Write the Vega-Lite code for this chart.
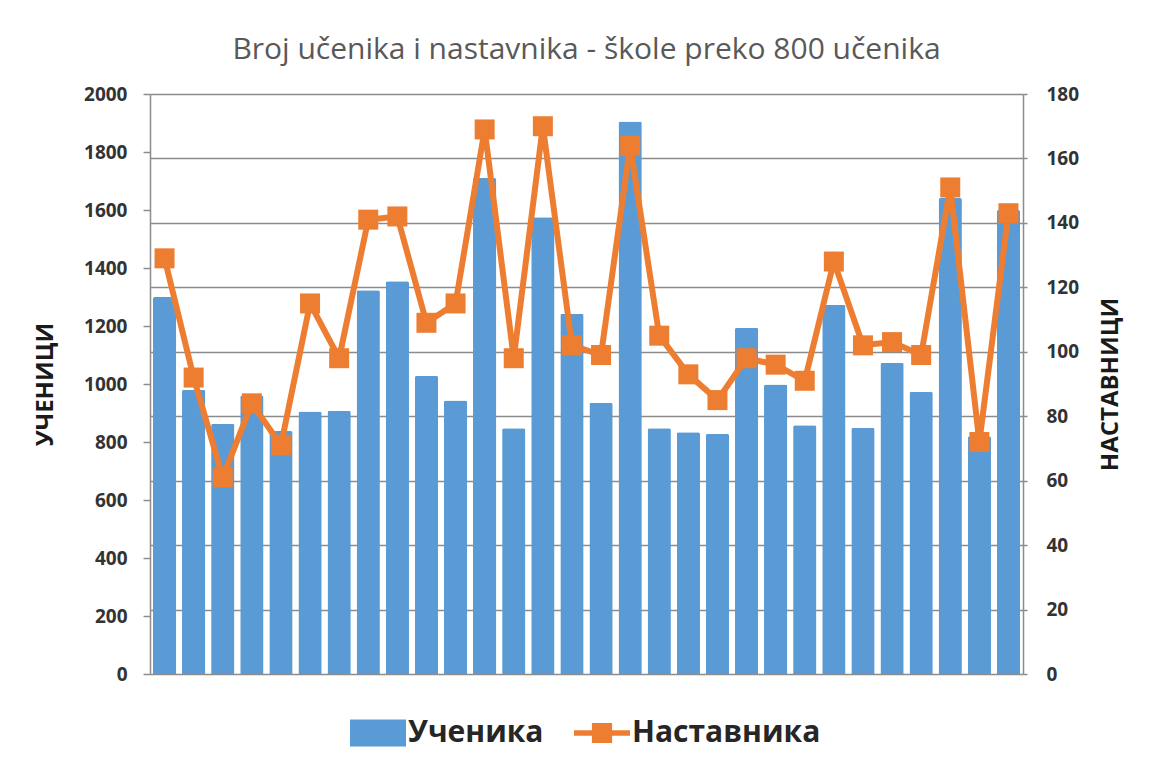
{
  "$schema": "https://vega.github.io/schema/vega-lite/v6.json",
  "autosize": {"type": "none"},
  "padding": {"left": 150, "top": 94, "right": 127, "bottom": 98},
  "width": 873,
  "height": 580,
  "background": "white",
  "title": {
    "text": "Broj učenika i nastavnika - škole preko 800 učenika",
    "font": "Open Sans",
    "fontSize": 30,
    "fontWeight": "normal",
    "color": "#595959",
    "anchor": "middle",
    "frame": "group",
    "offset": 20
  },
  "data": {
    "values": [
      {"skola": 1, "ucenika": 1300, "nastavnika": 129},
      {"skola": 2, "ucenika": 980, "nastavnika": 92},
      {"skola": 3, "ucenika": 863, "nastavnika": 61},
      {"skola": 4, "ucenika": 960, "nastavnika": 84},
      {"skola": 5, "ucenika": 838, "nastavnika": 71},
      {"skola": 6, "ucenika": 905, "nastavnika": 115},
      {"skola": 7, "ucenika": 908, "nastavnika": 98},
      {"skola": 8, "ucenika": 1323, "nastavnika": 141},
      {"skola": 9, "ucenika": 1354, "nastavnika": 142},
      {"skola": 10, "ucenika": 1028, "nastavnika": 109},
      {"skola": 11, "ucenika": 943, "nastavnika": 115},
      {"skola": 12, "ucenika": 1710, "nastavnika": 169},
      {"skola": 13, "ucenika": 847, "nastavnika": 98},
      {"skola": 14, "ucenika": 1575, "nastavnika": 170},
      {"skola": 15, "ucenika": 1242, "nastavnika": 102},
      {"skola": 16, "ucenika": 935, "nastavnika": 99},
      {"skola": 17, "ucenika": 1905, "nastavnika": 164},
      {"skola": 18, "ucenika": 847, "nastavnika": 105},
      {"skola": 19, "ucenika": 834, "nastavnika": 93},
      {"skola": 20, "ucenika": 828, "nastavnika": 85},
      {"skola": 21, "ucenika": 1194, "nastavnika": 98},
      {"skola": 22, "ucenika": 998, "nastavnika": 96},
      {"skola": 23, "ucenika": 858, "nastavnika": 91},
      {"skola": 24, "ucenika": 1273, "nastavnika": 128},
      {"skola": 25, "ucenika": 849, "nastavnika": 102},
      {"skola": 26, "ucenika": 1073, "nastavnika": 103},
      {"skola": 27, "ucenika": 973, "nastavnika": 99},
      {"skola": 28, "ucenika": 1641, "nastavnika": 151},
      {"skola": 29, "ucenika": 820, "nastavnika": 72},
      {"skola": 30, "ucenika": 1600, "nastavnika": 143}
    ]
  },
  "encoding": {
    "x": {
      "field": "skola",
      "type": "ordinal",
      "axis": null,
      "scale": {"paddingInner": 0.2, "paddingOuter": 0.1}
    }
  },
  "layer": [
    {
      "mark": {"type": "bar", "cornerRadiusTopLeft": 2, "cornerRadiusTopRight": 2},
      "encoding": {
        "y": {
          "field": "ucenika",
          "type": "quantitative",
          "scale": {"domain": [0, 2000], "nice": false},
          "axis": {
            "title": "УЧЕНИЦИ",
            "format": "d",
            "values": [0, 200, 400, 600, 800, 1000, 1200, 1400, 1600, 1800, 2000],
            "grid": false,
            "tickSize": 7,
            "labelPadding": 16,
            "titleX": -105,
            "titleY": 290,
            "titleAngle": 270,
            "titleAlign": "center",
            "titleBaseline": "middle"
          }
        },
        "color": {
          "datum": "Ученика",
          "type": "nominal",
          "scale": {"domain": ["Ученика", "Наставника"], "range": ["#5B9BD5", "#ED7D31"]},
          "legend": {
            "title": null,
            "orient": "none",
            "legendX": 200,
            "legendY": 611,
            "direction": "horizontal",
            "symbolSize": 3136,
            "symbolStrokeWidth": 0,
            "labelFont": "Open Sans",
            "labelFontSize": 30,
            "labelFontWeight": "bold",
            "labelColor": "#262626",
            "labelOffset": 2,
            "columnPadding": 30,
            "labelLimit": 400,
            "encode": {
              "symbols": {
                "update": {
                  "shape": {"signal": "datum.value === 'Ученика' ? 'M-1,-0.48H1V0.48H-1Z' : 'M-1,-0.1H1V0.1H-1Z M-0.36,-0.36H0.36V0.36H-0.36Z'"},
                  "fill": {"signal": "datum.value === 'Ученика' ? '#5B9BD5' : '#ED7D31'"},
                  "stroke": {"value": "transparent"},
                  "opacity": {"value": 1},
                  "fillOpacity": {"value": 1}
                }
              }
            }
          }
        }
      }
    },
    {
      "mark": {
        "type": "line",
        "strokeWidth": 6,
        "point": {"shape": "square", "size": 400, "filled": true, "opacity": 1}
      },
      "encoding": {
        "y": {
          "field": "nastavnika",
          "type": "quantitative",
          "scale": {"domain": [0, 180], "nice": false},
          "axis": {
            "title": "НАСТАВНИЦИ",
            "orient": "right",
            "values": [0, 20, 40, 60, 80, 100, 120, 140, 160, 180],
            "grid": true,
            "tickSize": 4,
            "labelPadding": 19,
            "titleX": 87,
            "titleY": 290,
            "titleAngle": 270,
            "titleAlign": "center",
            "titleBaseline": "middle"
          }
        },
        "color": {"datum": "Наставника", "type": "nominal"}
      }
    }
  ],
  "resolve": {"scale": {"y": "independent"}},
  "config": {
    "view": {"stroke": null},
    "axis": {
      "labelFont": "Open Sans",
      "labelFontSize": 19,
      "labelFontWeight": "bold",
      "labelColor": "#333333",
      "titleFont": "Open Sans",
      "titleFontSize": 24,
      "titleFontWeight": "bold",
      "titleColor": "#1a1a1a",
      "domainColor": "#8c8c8c",
      "domainWidth": 1.5,
      "tickColor": "#8c8c8c",
      "tickWidth": 1.5,
      "gridColor": "#8c8c8c",
      "gridWidth": 1.5,
      "gridOpacity": 1
    }
  }
}
